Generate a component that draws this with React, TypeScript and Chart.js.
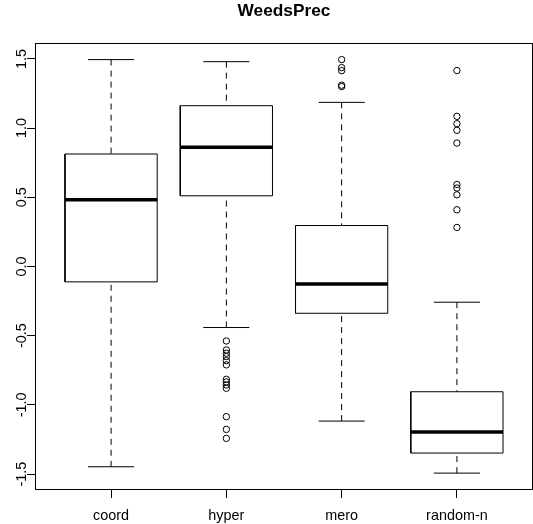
import React, { useEffect, useRef } from 'react';
import { Chart, registerables } from 'chart.js';

Chart.register(...registerables);

// ---- data ----
const categories = ['coord', 'hyper', 'mero', 'random-n'];
const lowerWhisker = [-1.447, -0.441, -1.117, -1.493];
const q1 = [-0.111, 0.511, -0.338, -1.348];
const medians = [0.482, 0.861, -0.126, -1.196];
const q3 = [0.813, 1.162, 0.296, -0.905];
const upperWhisker = [1.495, 1.48, 1.186, -0.258];
const outliersCoord: number[] = [];
const outliersHyper = [-0.538, -0.603, -0.627, -0.651, -0.68, -0.711, -0.815, -0.834, -0.856, -0.88, -1.085, -1.177, -1.242];
const outliersMero = [1.495, 1.437, 1.415, 1.31, 1.3];
const outliersRandomN = [1.416, 1.085, 1.032, 0.984, 0.892, 0.593, 0.567, 0.518, 0.41, 0.282];
const outliers = [outliersCoord, outliersHyper, outliersMero, outliersRandomN];
const yTicks = [-1.5, -1.0, -0.5, 0.0, 0.5, 1.0, 1.5];
const chartTitle = 'WeedsPrec';

const FONT = '"Liberation Sans", Arial, Helvetica, sans-serif';
const BOX_HALF = 0.4;
const CAP_HALF = 0.2;

type P = { x: number; y: number | null };

function boxPoints(): P[] {
  const pts: P[] = [];
  categories.forEach((_, i) => {
    const x = i + 1;
    pts.push({ x: x - BOX_HALF, y: q1[i] }, { x: x + BOX_HALF, y: q1[i] }, { x: x + BOX_HALF, y: q3[i] },
      { x: x - BOX_HALF, y: q3[i] }, { x: x - BOX_HALF, y: q1[i] }, { x, y: null });
  });
  return pts;
}
function medianPoints(): P[] {
  const pts: P[] = [];
  categories.forEach((_, i) => {
    const x = i + 1;
    pts.push({ x: x - BOX_HALF, y: medians[i] }, { x: x + BOX_HALF, y: medians[i] }, { x, y: null });
  });
  return pts;
}
function whiskerPoints(): P[] {
  const pts: P[] = [];
  categories.forEach((_, i) => {
    const x = i + 1;
    pts.push({ x, y: upperWhisker[i] }, { x, y: q3[i] }, { x, y: null });
    pts.push({ x, y: lowerWhisker[i] }, { x, y: q1[i] }, { x, y: null });
  });
  return pts;
}
function capPoints(): P[] {
  const pts: P[] = [];
  categories.forEach((_, i) => {
    const x = i + 1;
    pts.push({ x: x - CAP_HALF, y: upperWhisker[i] }, { x: x + CAP_HALF, y: upperWhisker[i] }, { x, y: null });
    pts.push({ x: x - CAP_HALF, y: lowerWhisker[i] }, { x: x + CAP_HALF, y: lowerWhisker[i] }, { x, y: null });
  });
  return pts;
}
function outlierPoints(): P[] {
  const pts: P[] = [];
  outliers.forEach((arr, i) => arr.forEach((v) => pts.push({ x: i + 1, y: v })));
  return pts;
}

const rFramePlugin = {
  id: 'rFrame',
  afterDraw(chart: any) {
    const { ctx, chartArea: a, scales } = chart;
    ctx.save();
    ctx.strokeStyle = '#000';
    ctx.lineWidth = 1;
    ctx.strokeRect(a.left + 0.5, a.top + 0.5, a.right - a.left - 1, a.bottom - a.top - 1);
    const ys = scales.y;
    ctx.fillStyle = '#000';
    ctx.font = `14.4px ${FONT}`;
    ctx.textAlign = 'center';
    ctx.textBaseline = 'alphabetic';
    ys.ticks.forEach((t: any) => {
      const py = ys.getPixelForValue(t.value);
      ctx.save();
      ctx.translate(a.left - 9, py);
      ctx.rotate(-Math.PI / 2);
      ctx.fillText(Number(t.value).toFixed(1), 0, 0);
      ctx.restore();
    });
    // title centred over the plot region
    ctx.font = `bold 17.3px ${FONT}`;
    ctx.textAlign = 'center';
    ctx.textBaseline = 'alphabetic';
    ctx.fillText(chartTitle, (a.left + a.right) / 2, 15.5);
    ctx.restore();
  },
};

export default function App() {
  const ref = useRef<HTMLCanvasElement | null>(null);
  useEffect(() => {
    if (!ref.current) return;
    const lineBase = { showLine: true, pointRadius: 0, borderColor: '#000', spanGaps: false, borderCapStyle: 'butt', borderJoinStyle: 'miter', tension: 0 };
    const chart = new Chart(ref.current, {
      type: 'scatter',
      data: {
        datasets: [
          { ...lineBase, label: 'median', data: medianPoints(), borderWidth: 3.5 } as any,
          { ...lineBase, label: 'box', data: boxPoints(), borderWidth: 1 } as any,
          { ...lineBase, label: 'caps', data: capPoints(), borderWidth: 1 } as any,
          { ...lineBase, label: 'whiskers', data: whiskerPoints(), borderWidth: 1, borderDash: [6, 5] } as any,
          {
            label: 'outliers', data: outlierPoints(), showLine: false, pointStyle: 'circle', pointRadius: 3.2,
            pointBackgroundColor: 'rgba(0,0,0,0)', pointBorderColor: '#000', pointBorderWidth: 1,
          } as any,
        ],
      },
      options: {
        animation: false,
        responsive: false,
        devicePixelRatio: 1,
        events: [],
        layout: { autoPadding: false, padding: { top: 43, left: 0, right: 0, bottom: 0 } },
        plugins: {
          legend: { display: false },
          tooltip: { enabled: false },
          title: { display: false },
        },
        scales: {
          x: {
            type: 'linear',
            position: 'bottom',
            min: 0.34,
            max: 4.66,
            bounds: 'data',
            afterBuildTicks: (s: any) => { s.ticks = categories.map((_, i) => ({ value: i + 1 })); },
            afterFit: (s: any) => { s.height = 34; },
            grid: { drawOnChartArea: false, drawTicks: true, tickLength: 8, color: '#000', lineWidth: 1 },
            border: { display: false },
            ticks: {
              autoSkip: false, maxRotation: 0, minRotation: 0, padding: 9, color: '#000',
              font: { family: FONT, size: 14.4 },
              callback: (v: any) => categories[Math.round(Number(v)) - 1] ?? '',
            },
          },
          y: {
            type: 'linear',
            position: 'left',
            min: -1.615,
            max: 1.615,
            bounds: 'data',
            afterBuildTicks: (s: any) => { s.ticks = yTicks.map((v) => ({ value: v })); },
            afterFit: (s: any) => { s.width = 35; },
            grid: { drawOnChartArea: false, drawTicks: true, tickLength: 8, color: '#000', lineWidth: 1 },
            border: { display: false },
            ticks: { display: false },
          },
        },
      } as any,
      plugins: [rFramePlugin],
    });
    return () => chart.destroy();
  }, []);
  return (
    <div style={{ position: 'absolute', left: 0, top: 0, width: 533, height: 524, background: '#fff' }}>
      <canvas ref={ref} width={533} height={524} style={{ display: 'block', width: 533, height: 524 }} />
    </div>
  );
}
